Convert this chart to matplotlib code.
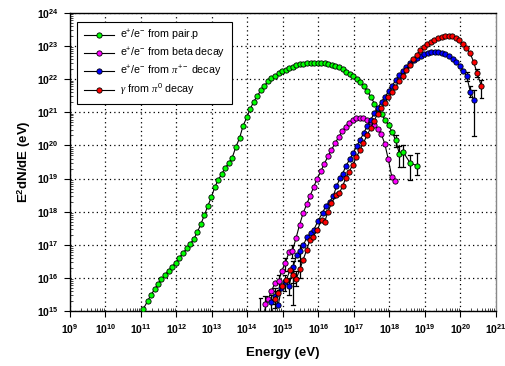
import numpy as np
import matplotlib
matplotlib.use("Agg")
import matplotlib.pyplot as plt
from matplotlib.ticker import LogLocator, FuncFormatter, NullFormatter

plt.rcParams['font.family'] = ['Liberation Sans', 'DejaVu Sans']
plt.rcParams['mathtext.fontset'] = 'custom'
plt.rcParams['mathtext.rm'] = 'Liberation Sans'
plt.rcParams['mathtext.bf'] = 'Liberation Sans:bold'
plt.rcParams['mathtext.it'] = 'Liberation Serif:italic'

# data: log10(E / eV) and log10(E^2 dN/dE / eV)
pair_logE = [11.06, 11.19, 11.28, 11.39, 11.49, 11.58, 11.68, 11.78, 11.88, 11.98,
             12.08, 12.18, 12.29, 12.39, 12.49, 12.59, 12.69, 12.79, 12.89, 12.99,
             13.08, 13.18, 13.28, 13.37, 13.47, 13.57, 13.68, 13.78, 13.88, 13.99,
             14.08, 14.18, 14.28, 14.38, 14.48, 14.58, 14.68, 14.78, 14.88, 14.98,
             15.08, 15.18, 15.28, 15.38, 15.48, 15.58, 15.68, 15.78, 15.88, 15.98,
             16.08, 16.18, 16.28, 16.38, 16.48, 16.58, 16.68, 16.78, 16.88, 16.98,
             17.08, 17.18, 17.28, 17.38, 17.48, 17.58, 17.68, 17.78, 17.88, 17.98,
             18.08, 18.18, 18.28, 18.38, 18.58, 18.78]
pair_logY = [15.05, 15.30, 15.48, 15.66, 15.83, 15.96, 16.09, 16.22, 16.34, 16.46,
             16.61, 16.74, 16.89, 17.03, 17.17, 17.38, 17.62, 17.90, 18.18, 18.45,
             18.73, 18.96, 19.14, 19.31, 19.46, 19.62, 19.96, 20.22, 20.59, 20.86,
             21.10, 21.32, 21.49, 21.66, 21.80, 21.93, 22.02, 22.10, 22.17, 22.23,
             22.28, 22.33, 22.38, 22.42, 22.45, 22.47, 22.49, 22.50, 22.50, 22.50,
             22.49, 22.48, 22.46, 22.43, 22.40, 22.36, 22.30, 22.22, 22.15, 22.08,
             22.01, 21.90, 21.78, 21.63, 21.46, 21.26, 21.10, 20.95, 20.77, 20.60,
             20.40, 20.15, 19.75, 19.81, 19.48, 19.38]
pair_err_logE = [18.18, 18.28, 18.38, 18.58, 18.78]
pair_err_lo = [19.95, 19.36, 19.36, 18.96, 19.11]
pair_err_hi = [20.30, 19.98, 20.01, 19.71, 19.78]

beta_logE = [14.50, 14.58, 14.68, 14.78, 14.88, 14.97, 15.07, 15.17, 15.27, 15.37,
             15.47, 15.57, 15.67, 15.77, 15.87, 15.97, 16.07, 16.17, 16.27, 16.37,
             16.47, 16.57, 16.67, 16.77, 16.87, 16.97, 17.07, 17.17, 17.27, 17.37,
             17.47, 17.57, 17.67, 17.77, 17.87, 17.97, 18.07, 18.17]
beta_logY = [15.20, 15.35, 15.62, 15.84, 15.90, 16.22, 16.45, 16.77, 16.81, 17.20,
             17.60, 17.95, 18.22, 18.48, 18.75, 19.00, 19.22, 19.45, 19.67, 19.87,
             20.06, 20.25, 20.42, 20.56, 20.68, 20.77, 20.82, 20.84, 20.82, 20.78,
             20.71, 20.62, 20.50, 20.35, 20.05, 19.58, 19.04, 18.94]
beta_err_logE = [14.37, 14.50, 14.88, 15.07, 15.27]
beta_err_lo = [14.90, 14.95, 15.65, 16.20, 16.60]
beta_err_hi = [15.40, 15.45, 16.10, 16.60, 17.00]

pion_logE = [14.68, 14.78, 14.87, 14.96, 15.05, 15.18, 15.29, 15.39, 15.48, 15.58,
             15.68, 15.78, 15.87, 15.99, 16.12, 16.21, 16.32, 16.42, 16.51, 16.61,
             16.68, 16.78, 16.88, 16.98, 17.08, 17.18, 17.28, 17.38, 17.48, 17.58,
             17.68, 17.78, 17.88, 17.98, 18.08, 18.18, 18.28, 18.38, 18.48, 18.58,
             18.68, 18.78, 18.88, 18.98, 19.08, 19.18, 19.28, 19.38, 19.48, 19.58,
             19.68, 19.78, 19.88, 19.98, 20.08, 20.18, 20.28, 20.38]
pion_logY = [15.28, 15.45, 15.18, 15.70, 15.89, 15.76, 16.34, 16.69, 16.80, 17.00,
             17.23, 17.35, 17.45, 17.72, 17.97, 18.17, 18.30, 18.47, 18.76, 19.01,
             19.14, 19.38, 19.58, 19.76, 19.98, 20.17, 20.38, 20.58, 20.78, 20.98,
             21.14, 21.32, 21.47, 21.63, 21.80, 21.97, 22.12, 22.25, 22.37, 22.48,
             22.57, 22.65, 22.71, 22.76, 22.80, 22.82, 22.83, 22.82, 22.79, 22.75,
             22.69, 22.61, 22.53, 22.40, 22.25, 22.08, 21.62, 21.37]
pion_err_logE = [14.68, 14.78, 15.05, 15.18, 15.29, 15.48, 20.18, 20.28, 20.38]
pion_err_lo = [15.00, 15.20, 15.60, 15.50, 15.18, 16.55, 21.95, 21.45, 20.27]
pion_err_hi = [15.50, 15.70, 16.10, 16.00, 16.50, 17.00, 22.20, 21.80, 21.66]

gamma_logE = [14.77, 14.87, 14.97, 15.10, 15.20, 15.28, 15.37, 15.48, 15.57, 15.67,
              15.76, 15.85, 15.97, 16.09, 16.18, 16.27, 16.37, 16.49, 16.59, 16.68,
              16.77, 16.87, 16.97, 17.07, 17.17, 17.27, 17.37, 17.47, 17.57, 17.67,
              17.77, 17.87, 17.97, 18.07, 18.17, 18.27, 18.37, 18.47, 18.57, 18.67,
              18.77, 18.87, 18.97, 19.07, 19.17, 19.27, 19.37, 19.47, 19.57, 19.67,
              19.77, 19.87, 19.97, 20.07, 20.17, 20.27, 20.37, 20.47, 20.59]
gamma_logY = [15.38, 15.55, 15.75, 15.94, 16.24, 16.10, 15.96, 16.26, 16.55, 16.84,
              17.14, 17.24, 17.45, 17.75, 17.70, 18.00, 18.25, 18.50, 18.56, 18.76,
              19.01, 19.21, 19.42, 19.64, 19.86, 20.08, 20.30, 20.52, 20.74, 20.96,
              21.12, 21.28, 21.45, 21.60, 21.76, 21.93, 22.10, 22.27, 22.44, 22.60,
              22.74, 22.87, 22.97, 23.06, 23.13, 23.19, 23.24, 23.27, 23.29, 23.30,
              23.29, 23.24, 23.17, 23.05, 22.93, 22.79, 22.53, 22.18, 21.80]
gamma_err_logE = [14.77, 15.28, 15.37, 15.48, 20.47, 20.59]
gamma_err_lo = [15.10, 15.85, 15.75, 16.00, 22.05, 21.43]
gamma_err_hi = [15.60, 16.35, 16.20, 16.50, 22.30, 21.98]

labels = [r'e$^{+}$/e$^{-}$ from pair.p',
          r'e$^{+}$/e$^{-}$ from beta decay',
          r'e$^{+}$/e$^{-}$ from $\mathit{\pi}^{+-}$ decay',
          r'$\mathit{\gamma}$ from $\mathit{\pi}^{0}$ decay']
colors = ['#00ff00', '#ff00ff', '#0000ff', '#ff0000']

series = [
    (pair_logE, pair_logY, pair_err_logE, pair_err_lo, pair_err_hi),
    (beta_logE, beta_logY, beta_err_logE, beta_err_lo, beta_err_hi),
    (pion_logE, pion_logY, pion_err_logE, pion_err_lo, pion_err_hi),
    (gamma_logE, gamma_logY, gamma_err_logE, gamma_err_lo, gamma_err_hi),
]

fig = plt.figure(figsize=(5.06, 3.66), dpi=100)
ax = fig.add_axes([0.138, 0.150, 0.842, 0.815])

for (lx, ly, ex, elo, ehi), lab, col in zip(series, labels, colors):
    x = 10 ** np.array(lx)
    y = 10 ** np.array(ly)
    # error bars
    exv = 10 ** np.array(ex)
    ax.vlines(exv, 10 ** np.array(elo), 10 ** np.array(ehi), color='black', lw=0.9, zorder=2)
    for xe, lo, hi in zip(ex, elo, ehi):
        for v in (lo, hi):
            ax.plot([10 ** (xe - 0.05), 10 ** (xe + 0.05)], [10 ** v, 10 ** v],
                    color='black', lw=0.9, zorder=2)
    ax.plot(x, y, '-o', color='black', lw=0.8, ms=3.8, mfc=col, mec='black',
            mew=0.6, label=lab, zorder=3)

ax.set_xscale('log')
ax.set_yscale('log')
ax.set_xlim(1e9, 1e21)
ax.set_ylim(1e15, 1e24)

ax.xaxis.set_major_locator(LogLocator(base=10, numticks=20))
ax.yaxis.set_major_locator(LogLocator(base=10, numticks=20))
ax.xaxis.set_minor_locator(LogLocator(base=10, subs=np.arange(2, 10), numticks=200))
ax.yaxis.set_minor_locator(LogLocator(base=10, subs=np.arange(2, 10), numticks=200))
ax.xaxis.set_minor_formatter(NullFormatter())
ax.yaxis.set_minor_formatter(NullFormatter())
fmt = FuncFormatter(lambda v, p: r'$\mathbf{10^{%d}}$' % int(round(np.log10(v))))
ax.xaxis.set_major_formatter(fmt)
ax.yaxis.set_major_formatter(fmt)

ax.tick_params(which='major', direction='out', length=4, width=0.8, labelsize=7.5, pad=4)
ax.tick_params(which='minor', direction='in', length=2.5, width=0.5)

ax.grid(True, which='major', linestyle=(0, (1, 2.5)), color='black', lw=0.9)
for s in ['left', 'bottom', 'top']:
    ax.spines[s].set_color('black')
    ax.spines[s].set_linewidth(1.0)
ax.spines['right'].set_color('#888888')
ax.spines['right'].set_linewidth(1.0)

ax.set_xlabel('Energy (eV)', fontsize=9.5, fontweight='bold', labelpad=8)
ax.set_ylabel(r'E$^{\mathbf{2}}$dN/dE (eV)', fontsize=9.5, fontweight='bold', labelpad=3)

leg = ax.legend(loc='upper left', fontsize=7.7, frameon=True, fancybox=False,
                edgecolor='black', framealpha=1, borderpad=0.6, labelspacing=0.35,
                handlelength=2.8, handletextpad=0.6, bbox_to_anchor=(0.005, 0.988))
leg.get_frame().set_linewidth(0.8)

fig.savefig('out.png', dpi=100)
